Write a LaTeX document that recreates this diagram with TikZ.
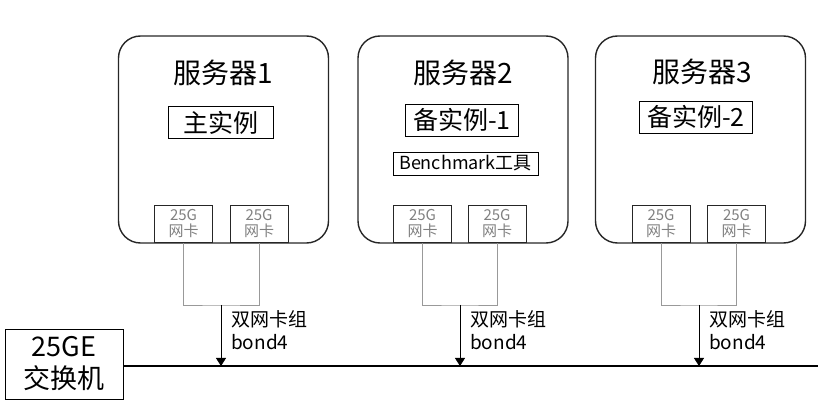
\documentclass[tikz,border=0pt]{standalone}
\usepackage{fontspec}
\setmainfont{Noto Sans CJK SC}
\usetikzlibrary{positioning, arrows.meta, calc}

\begin{document}
\begin{tikzpicture}[
  x=1pt, y=1pt,
  server/.style={draw=black!85, line width=1.4pt, rounded corners=22pt, minimum width=210pt, minimum height=207pt},
  title/.style={font=\fontsize{28pt}{32pt}\selectfont},
  inst/.style={draw, line width=0.9pt, inner xsep=8pt, inner ysep=0pt, minimum width=105pt, minimum height=32pt, font=\fontsize{25pt}{30pt}\selectfont},
  tool/.style={draw, line width=0.9pt, inner sep=0pt, minimum width=145pt, minimum height=23pt, font=\fontsize{18pt}{22pt}\selectfont},
  nic/.style={draw=black!85, line width=1pt, anchor=south, minimum width=58pt, minimum height=37pt, inner sep=1pt, align=center, text=black!50, font=\fontsize{15pt}{16pt}\selectfont},
  link/.style={draw=black!40, line width=0.6pt},
  arr/.style={-{Triangle[length=8pt, width=10pt]}, line width=0.9pt},
  bond/.style={anchor=north west, align=left, inner sep=0pt, font=\fontsize{19pt}{23pt}\selectfont},
  bus/.style={line width=2.8pt},
]
\useasboundingbox (0,0) rectangle (831,-406);

% --- servers ---
\node[server] (s1) at (223.5,-139.5) {};
\node[server] (s2) at (463,-139.5) {};
\node[server] (s3) at (700.5,-139.5) {};

\node[title] (t1) at (223,-73) {服务器1};
\node[title] (t2) at (463,-73) {服务器2};
\node[title] (t3) at (702,-72) {服务器3};

% --- instances ---
\node[inst] (i1) at (220.5,-122.5) {主实例};
\node[inst] (i2) at (462,-120) {备实例-1};
\node[tool] (bench) at (465.5,-163.5) {Benchmark工具};
\node[inst] (i3) at (696,-117) {备实例-2};

% --- NICs ---
\node[nic] (n11) at (183.5,-243) {25G\\网卡};
\node[nic] (n12) at (259,-243) {25G\\网卡};
\node[nic] (n21) at (422.5,-243) {25G\\网卡};
\node[nic] (n22) at (497,-243) {25G\\网卡};
\node[nic] (n31) at (661,-243) {25G\\网卡};
\node[nic] (n32) at (736.5,-243) {25G\\网卡};

% --- switch and bus ---
\node[draw, line width=0.9pt, minimum width=118pt, minimum height=70pt, align=center,
      inner sep=0pt, font=\fontsize{27pt}{32pt}\selectfont] (sw) at (64,-364) {25GE\\交换机};
\coordinate (busend) at (818,-366);
\draw[bus] (sw.east |- busend) -- (busend);

% --- bonds ---
\coordinate (j1) at (221,-305);
\coordinate (j2) at (460,-305);
\coordinate (j3) at (699,-305);
\draw[link] (n11.south) |- (j1) -| (n12.south);
\draw[link] (n21.south) |- (j2) -| (n22.south);
\draw[link] (n31.south) |- (j3) -| (n32.south);
\draw[arr] (j1) -- (j1 |- busend);
\draw[arr] (j2) -- (j2 |- busend);
\draw[arr] (j3) -- (j3 |- busend);
\node[bond] (b1) at ([xshift=10pt, yshift=-5pt]j1) {双网卡组\\bond4};
\node[bond] (b2) at ([xshift=10pt, yshift=-5pt]j2) {双网卡组\\bond4};
\node[bond] (b3) at ([xshift=10pt, yshift=-5pt]j3) {双网卡组\\bond4};

\end{tikzpicture}
\end{document}
